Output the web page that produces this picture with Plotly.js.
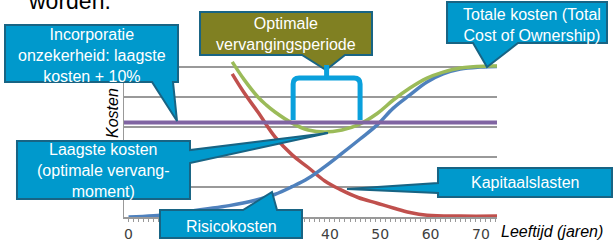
<!DOCTYPE html>
<html>
<head>
<meta charset="utf-8">
<script src="https://cdn.plot.ly/plotly-3.0.1.min.js"></script>
<style>html,body{margin:0;padding:0;background:#fff;}#chart{width:615px;height:240px;}</style>
</head>
<body>
<div id="chart"></div>
<script>
// ---- Data ----
const totalYears   = [20.6, 23.0, 25.7, 27.4, 29.1, 32.5, 35.7, 39.0, 42.4, 45.6, 49.4, 52.6, 55.9, 59.3, 62.5, 65.9, 71.2, 73.2];
const totalCost    = [5.17, 4.57, 4.00, 3.73, 3.50, 3.13, 2.90, 2.83, 2.90, 3.07, 3.45, 3.90, 4.30, 4.63, 4.83, 4.97, 5.03, 5.03];

const capitalYears = [20.6, 23.0, 25.7, 29.1, 32.5, 35.7, 39.0, 42.0, 45.6, 49.4, 52.6, 55.9, 59.3, 65.9, 73.2];
const capitalCost  = [4.77, 4.13, 3.50, 2.67, 2.07, 1.65, 1.20, 0.92, 0.65, 0.46, 0.30, 0.15, 0.06, 0.03, 0.03];

const riskYears    = [0, 5, 10, 15, 20, 25, 29, 32.5, 35.7, 39.0, 42.4, 46.0, 49.4, 52.6, 55.9, 59.3, 62.5, 65.9, 69.9, 73.2];
const riskCost     = [0, 0.04, 0.14, 0.26, 0.38, 0.55, 0.75, 1.01, 1.29, 1.68, 2.12, 2.60, 3.07, 3.63, 4.07, 4.50, 4.77, 4.93, 5.00, 5.02];

const marginYears  = [-0.9, 73.2];
const marginCost   = [3.15, 3.15];           // laagste kosten + 10%

const optimalPeriod = [32.7, 46.0];          // years where total cost < margin line
const xTickVals    = [0, 10, 20, 30, 40, 50, 60, 70];
const xTickText    = ['0', '10', '20', '30', '40', '50', '60', '70'];

// ---- Layout helpers (pixel -> paper) ----
const L = 124, R = 497, T = 37, B = 217;
const P = (px, py) => [((px - L) / (R - L)).toFixed(4), ((B - py) / (B - T)).toFixed(4)];
const poly = pts => 'M' + pts.map(p => P(p[0], p[1]).join(',')).join(' L') + ' Z';

const BLUE_FILL = 'rgb(0,153,204)';
const EDGE = 'rgb(24,100,132)';
const OLIVE = 'rgb(128,128,34)';
const FONT = 'Liberation Sans, Arial, sans-serif';

function callout(pts, fill) {
  return {type: 'path', xref: 'paper', yref: 'paper', path: poly(pts),
          fillcolor: fill, line: {color: EDGE, width: 2}, layer: 'above'};
}
function label(text, px, py, opts) {
  const p = P(px, py);
  return Object.assign({xref: 'paper', yref: 'paper', x: +p[0], y: +p[1],
    xanchor: 'center', yanchor: 'middle', showarrow: false, text: text,
    font: {family: FONT, size: 16, color: '#fff'}}, opts || {});
}

const lineStyle = c => ({color: c, width: 3.5, shape: 'spline', smoothing: 1.1});
const traces = [
  {x: capitalYears, y: capitalCost, mode: 'lines', line: lineStyle('rgb(192,80,77)'), hoverinfo: 'skip'},
  {x: riskYears, y: riskCost, mode: 'lines', line: lineStyle('rgb(79,129,189)'), hoverinfo: 'skip'},
  {x: totalYears, y: totalCost, mode: 'lines', line: lineStyle('rgb(155,187,89)'), hoverinfo: 'skip'},
  {x: marginYears, y: marginCost, mode: 'lines', line: {color: 'rgb(128,100,162)', width: 4}, hoverinfo: 'skip'}
];

const bx0 = optimalPeriod[0], bx1 = optimalPeriod[1], bmid = (bx0 + bx1) / 2;
const yBot = marginCost[0] + 0.08, yTop = 4.63, yNub = 5.07, rx = 1.2, ry = 0.2;
const bracket = {type: 'path', xref: 'x', yref: 'y', layer: 'above',
  path: `M${bx0},${yBot} L${bx0},${yTop - ry} Q${bx0},${yTop} ${bx0 + rx},${yTop} L${bx1 - rx},${yTop} Q${bx1},${yTop} ${bx1},${yTop - ry} L${bx1},${yBot} M${bmid},${yTop} L${bmid},${yNub}`,
  fillcolor: 'rgba(0,0,0,0)', line: {color: 'rgb(10,160,220)', width: 5}};

const shapes = [
  callout([[5,25],[178,25],[178,82],[173,82],[177,121],[152,82],[5,82]], BLUE_FILL),
  callout([[200,12],[372,12],[372,55],[345,55],[326,70],[302,55],[200,55]], OLIVE),
  bracket,
  callout([[447,2],[607,2],[607,43],[518,43],[487,67],[473,43],[447,43]], BLUE_FILL),
  callout([[17,141],[190,141],[190,150],[328,133],[190,163],[190,199],[17,199]], BLUE_FILL),
  callout([[160,210],[243,210],[272,192],[277,210],[302,210],[302,238],[160,238]], BLUE_FILL),
  callout([[438,168],[612,168],[612,197],[438,197],[438,193],[347,189],[438,183]], BLUE_FILL)
];

const annotations = [
  label('worden.', 70, 1, {font: {family: FONT, size: 23, color: '#000'}}),
  label('Incorporatie<br>onzekerheid: laagste<br>kosten + 10%', 91.5, 55),
  label('Optimale<br>vervangingsperiode', 286, 34.5),
  label('Totale kosten (Total<br>Cost of Ownership)', 532, 24.5),
  label('Laagste kosten<br>(optimale vervang-<br>moment)', 103, 171),
  label('Risicokosten', 231, 226),
  label('Kapitaalslasten', 525, 183),
  label('<i>Kosten</i>', 113, 113, {textangle: -90, font: {family: FONT, size: 16, color: '#000'}}),
  label('<i>Leeftijd (jaren)</i>', 552, 232, {font: {family: FONT, size: 16, color: '#000'}})
];

const layout = {
  width: 615, height: 240,
  margin: {l: L, r: 615 - R, t: T, b: 240 - B, pad: 0},
  paper_bgcolor: '#fff', plot_bgcolor: '#fff',
  showlegend: false,
  xaxis: {range: [-0.9, 73.2], tickvals: xTickVals, ticktext: xTickText,
          ticks: '',
          minor: {ticks: 'outside', dtick: 1, tick0: 0, ticklen: 3, tickcolor: '#999', tickwidth: 1, showgrid: false},
          showgrid: false, zeroline: false, showline: true, linecolor: '#999', linewidth: 1.5,
          tickfont: {family: 'DejaVu Sans, sans-serif', size: 14, color: '#404040'}, ticklabelstandoff: 4},
  yaxis: {range: [0, 6], dtick: 1, tick0: 0, showticklabels: false, ticks: '',
          showgrid: true, gridcolor: '#999', gridwidth: 1.5, zeroline: false,
          showline: true, linecolor: '#999', linewidth: 1.5},
  shapes: shapes,
  annotations: annotations
};

Plotly.newPlot('chart', traces, layout, {staticPlot: true, displayModeBar: false});
</script>
</body>
</html>
